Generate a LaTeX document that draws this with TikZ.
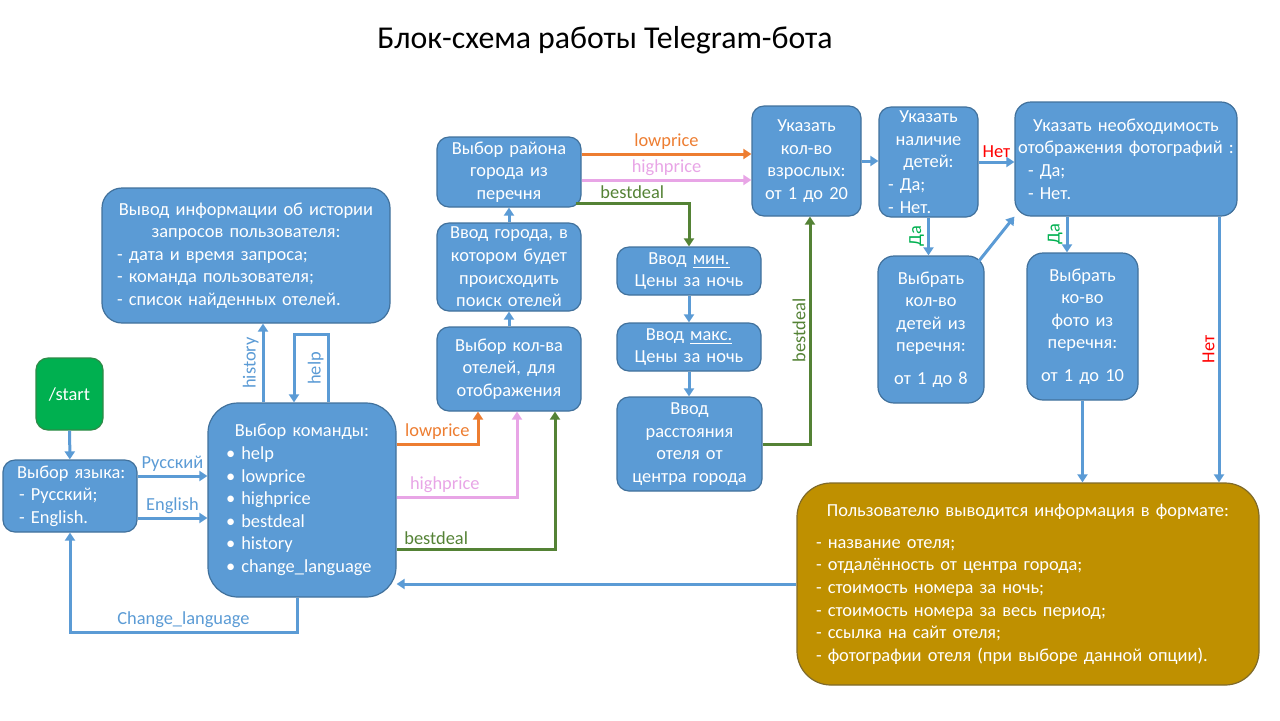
\documentclass[tikz,border=0pt]{standalone}
\usepackage{fontspec}
\setmainfont{Carlito}
\usetikzlibrary{arrows.meta}
\setlength{\parindent}{0pt}
\definecolor{boxblue}{HTML}{5B9BD5}
\definecolor{boxline}{HTML}{41719C}
\definecolor{startgreen}{HTML}{00B050}
\definecolor{startline}{HTML}{2E8B47}
\definecolor{outgold}{HTML}{BF9000}
\definecolor{outline}{HTML}{7F6A2A}
\definecolor{lowc}{HTML}{ED7D31}
\definecolor{highc}{HTML}{E8A5E6}
\definecolor{bestc}{HTML}{548235}
\definecolor{yesgreen}{HTML}{00B050}
\definecolor{nored}{HTML}{FF0000}

\begin{document}
\begin{tikzpicture}[x=.5pt,y=-.5pt,
  box/.style={draw=boxline, line width=.6pt, fill=boxblue, text=white, rounded corners=6pt,
    inner sep=0pt, align=center, font=\fontsize{9.2}{11.3}\selectfont},
  lbl/.style={font=\fontsize{9.2}{11.3}\selectfont, inner sep=1.5pt},
  arr/.style={line width=1.5pt, boxblue, -{Triangle[width=5pt,length=4pt]}},
  lowline/.style={arr, lowc},
  highline/.style={arr, highc},
  bestline/.style={arr, bestc}]
\useasboundingbox (0,0) rectangle (1280,720);
\node (title) at (605,40) {\fontsize{15.9}{18}\selectfont Блок-схема работы Telegram-бота};
\node[box, fill=startgreen, draw=startline, minimum width=33.5pt, minimum height=36pt] (start) at (69.5,394) {/start};
\node[box, align=left, text width=57pt, minimum width=67pt, minimum height=36pt] (lang) at (70,496)
  {\hspace*{2pt}Выбор языка:\\ \ - Русский;\\ \ - English.};
\node[box, align=left, rounded corners=15pt, text width=76pt, minimum width=94pt, minimum height=97pt] (cmd) at (302,500)
  {{\centering Выбор команды:\par}\textbullet\ help\\ \textbullet\ lowprice\\ \textbullet\ highprice\\
   \textbullet\ bestdeal\\ \textbullet\ history\\ \textbullet\ change\_language};
\node[box, align=left, rounded corners=10pt, text width=129pt, minimum width=144pt, minimum height=67.5pt] (hist) at (246,255.5)
  {{\centering Вывод информации об истории\\ запросов пользователя:\par}- дата и время запроса;\\
   - команда пользователя;\\ - список найденных отелей.};
\node[box, text width=68pt, minimum width=72pt, minimum height=42pt] (kolva) at (509,369)
  {Выбор кол-ва\\ отелей, для\\ отображения};
\node[box, text width=68pt, minimum width=72pt, minimum height=44pt] (city) at (509,267)
  {Ввод города, в\\ котором будет\\ происходить\\ поиск отелей};
\node[box, text width=68pt, minimum width=72pt, minimum height=35pt] (district) at (509,172)
  {Выбор района\\ города из\\ перечня};
\node[box, text width=68pt, minimum width=72pt, minimum height=24pt] (min) at (689,271)
  {Ввод \underline{мин.}\\ Цены за ночь};
\node[box, text width=68pt, minimum width=72pt, minimum height=24pt] (max) at (689,347)
  {Ввод \underline{макс.}\\ Цены за ночь};
\node[box, text width=68pt, minimum width=72.5pt, minimum height=47pt] (dist) at (689.5,444)
  {Ввод\\ расстояния\\ отеля от\\ центра города};
\node[box, text width=52pt, minimum width=54.5pt, minimum height=55pt] (adults) at (806.5,161)
  {Указать\\ кол-во\\ взрослых:\\ от 1 до 20};
\node[box, align=left, text width=40.5pt, minimum width=49.5pt, minimum height=55pt] (kids) at (928.5,162)
  {{\centering Указать\\ наличие\\ детей:\par}- Да;\\ - Нет.};
\node[box, align=left, rounded corners=8pt, text width=110pt, minimum width=111pt, minimum height=57pt] (photo) at (1126,159)
  {{\centering Указать необходимость\\ отображения фотографий~:\par}\hspace*{6pt}- Да;\\ \hspace*{6pt}- Нет.};
\node[box, text width=50pt, rounded corners=8pt, minimum width=53pt, minimum height=73.5pt] (kidsnum) at (931,329.5)
  {Выбрать\\ кол-во\\ детей из\\ перечня:\\[5pt] от 1 до 8};
\node[box, text width=52pt, rounded corners=8pt, minimum width=55.5pt, minimum height=73.5pt] (photonum) at (1082.5,326.5)
  {Выбрать\\ ко-во\\ фото из\\ перечня:\\[5pt] от 1 до 10};
\node[box, align=left, fill=outgold, draw=outline, rounded corners=17pt, text width=212pt, minimum width=231pt, minimum height=101pt] (out) at (1028,584)
  {{\centering Пользователю выводится информация в формате:\par}\vspace{4.75pt}- название отеля;\\
   - отдалённость от центра города;\\ - стоимость номера за ночь;\\ - стоимость номера за весь период;\\
   - ссылка на сайт отеля;\\ - фотографии отеля (при выборе данной опции).};
\draw[arr] (start) -- (lang);
\draw[arr] ([yshift=10pt]lang.east) -- node[lbl,above,text=boxblue]{Русский} ([yshift=10pt]lang.east -| cmd.west);
\draw[arr] ([yshift=-11pt]lang.east) -- node[lbl,above,text=boxblue]{English} ([yshift=-11pt]lang.east -| cmd.west);
\draw[arr] ([xshift=-19.5pt]cmd.north) -- node[lbl,rotate=90,anchor=south,text=boxblue]{history} ([xshift=-19.5pt]cmd.north |- hist.south);
\draw[arr] ([xshift=13pt]cmd.north) -- node[lbl,rotate=90,anchor=south,text=boxblue]{help} ++(0,34pt) -| ([xshift=-4pt]cmd.north);
\draw[arr] ([xshift=-2.5pt]cmd.south) -- ++(0,-17.5pt) -| node[lbl,pos=.25,above,text=boxblue]{Change\_language} (lang.south);
\draw[lowline] ([yshift=28pt]cmd.east) -| node[lbl,pos=.25,above,text=lowc]{lowprice} ([xshift=-15.5pt]kolva.south);
\draw[highline] ([yshift=1.5pt]cmd.east) -| node[lbl,pos=.2,above,text=highc]{highprice} ([xshift=4pt]kolva.south);
\draw[bestline] ([yshift=-24.5pt]cmd.east) -| node[lbl,pos=.125,above,text=bestc]{bestdeal} ([xshift=23pt]kolva.south);
\draw[arr] (kolva) -- (city);
\draw[arr] (city) -- (district);
\draw[lowline] ([yshift=9pt]district.east) -- node[lbl,above,text=lowc]{lowprice} ([yshift=9pt]district.east -| adults.west);
\draw[highline] ([yshift=-4pt]district.east) -- node[lbl,above,text=highc]{highprice} ([yshift=-4pt]district.east -| adults.west);
\draw[bestline] ([xshift=-3pt,yshift=-15.5pt]district.east) -| node[lbl,pos=.25,above,text=bestc]{bestdeal} (min.north);
\draw[arr] (min) -- (max);
\draw[arr] (max.south) -- (max.south |- dist.north);
\draw[bestline] (dist.east) -| node[lbl,pos=.75,rotate=90,anchor=south,text=bestc]{bestdeal} ([xshift=1.75pt]adults.south);
\draw[arr] (adults.east) -- (adults.east -| kids.west);
\draw[arr] (kids.east) -- node[lbl,above,text=nored]{Нет} (kids.east -| photo.west);
\draw[arr] (kids.south) -- node[lbl,rotate=90,anchor=south,text=yesgreen]{Да} (kids.south |- kidsnum.north);
\draw[arr] ([xshift=-3pt,yshift=-3pt]kidsnum.north east) -- (photo.south west);
\draw[arr] ([xshift=-7.75pt]photonum.north |- photo.south) -- node[lbl,rotate=90,anchor=south,text=yesgreen]{Да} ([xshift=-7.75pt]photonum.north);
\draw[arr] (photonum.south) -- (photonum.south |- out.north);
\draw[arr] ([xshift=46.5pt]photo.south) -- node[lbl,rotate=90,anchor=south,text=nored]{Нет} ([xshift=46.5pt]photo.south |- out.north);
\draw[arr] (out.west) -- (out.west -| cmd.east);
\end{tikzpicture}
\end{document}
